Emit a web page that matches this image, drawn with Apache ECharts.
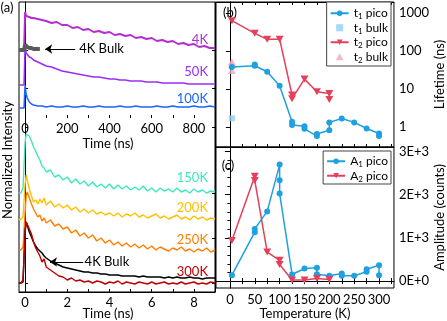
<!DOCTYPE html>
<html>
<head>
<meta charset="utf-8">
<script src="https://cdn.jsdelivr.net/npm/echarts@6/dist/echarts.min.js"></script>
<style>
  html, body { margin: 0; padding: 0; background: #fff; }
  #main { width: 447px; height: 321px; }
</style>
</head>
<body>
<div id="main"></div>
<script>
// (a) top: long time window, ns
var tTop = [-28, -15, -5, 0, 2, 5, 10, 20, 30, 40, 60, 80,
  100, 125, 150, 175, 200, 225, 250, 275, 300, 325, 350, 375, 400, 425, 450, 475, 500,
  525, 550, 575, 600, 625, 650, 675, 700, 725, 750, 775, 800, 825, 850, 875, 900];
var i4K = [68, 68, 68, 106, 104, 102, 101, 101, 100, 100, 99, 98,
  97, 95, 96, 93, 93, 90, 91, 88, 89, 86, 87, 85, 86, 83, 84, 82, 83,
  80, 81, 79, 80, 77, 78, 76, 77, 74, 75, 73, 74, 71, 72, 70, 70];
var i50K = [33, 33, 33, 71, 68, 65, 63, 61, 60, 58, 56, 54,
  52, 51, 49, 47, 46, 45, 44, 43, 42, 41, 41, 40, 39, 39, 38, 38, 37,
  37, 37, 36, 36, 36, 35, 35, 35, 35, 35, 34, 34, 34, 34, 34, 34];
var i100K = [10, 10, 10, 33, 28, 24, 20, 16, 14, 13, 12, 12,
  11, 12, 11, 11, 12, 11, 11, 12, 11, 11, 12, 11, 11, 11, 12, 11, 11,
  12, 11, 11, 11, 12, 11, 11, 12, 11, 11, 11, 12, 11, 11, 12, 11];
var tBulkTop = [-28, -15, -5, 0, 2, 5, 10, 20, 30, 40, 55, 70];
var iBulkTop = [68, 68, 68, 73, 73, 72, 71, 70, 70, 69, 69, 69];

// (a) bottom: short time window, ns
var tNs = [-0.3, -0.2, -0.1, 0, 0.05, 0.1, 0.2, 0.3, 0.4, 0.5, 0.6, 0.7, 0.8, 0.9,
  1.0, 1.2, 1.4, 1.6, 1.8, 2.0, 2.2, 2.4, 2.6, 2.8, 3.0, 3.2, 3.4, 3.6, 3.8, 4.0,
  4.2, 4.4, 4.6, 4.8, 5.0, 5.2, 5.4, 5.6, 5.8, 6.0, 6.2, 6.4, 6.6, 6.8, 7.0,
  7.2, 7.4, 7.6, 7.8, 8.0, 8.2, 8.4, 8.6, 8.8, 9.0];
var i150K = [99, 99, 104, 150, 158, 160, 156, 151, 145, 141, 136, 132, 126, 124,
  120, 122, 115, 117, 112, 115, 109, 113, 108, 111, 106, 110, 105, 108, 104, 108,
  103, 107, 103, 106, 102, 105, 102, 106, 101, 104, 100, 104, 101, 103, 100,
  104, 100, 102, 99, 103, 100, 102, 99, 101, 100];
var i200K = [72, 73, 75, 108, 117, 112, 103, 96, 90, 92, 88, 93, 89, 94,
  87, 91, 85, 88, 84, 87, 82, 85, 80, 83, 79, 82, 78, 80, 77, 79,
  76, 79, 75, 78, 76, 79, 75, 77, 74, 76, 78, 74, 76, 73, 75,
  77, 73, 75, 72, 76, 73, 75, 72, 74, 73];
var i250K = [42, 42, 45, 80, 96, 100, 94, 88, 83, 79, 75, 77, 71, 74,
  69, 72, 66, 68, 63, 65, 59, 62, 56, 59, 54, 57, 51, 54, 49, 52,
  47, 50, 46, 49, 45, 48, 44, 47, 43, 46, 42, 45, 43, 41, 44,
  42, 45, 41, 43, 40, 43, 41, 44, 40, 42];
var i300K = [9, 9, 12, 58, 70, 68, 63, 58, 50, 44, 40, 36, 30, 33,
  25, 22, 19, 16, 15, 12, 14, 11, 12, 10, 11, 9, 11, 10, 8, 10,
  9, 11, 8, 10, 9, 8, 10, 9, 8, 10, 8, 9, 10, 8, 9,
  8, 10, 8, 9, 10, 8, 9, 8, 10, 9];
var iBulk = [9, 9, 10, 62, 70, 67, 60, 55, 50, 46, 43, 41, 39, 36,
  34, 31, 29, 27, 25, 24, 23, 22, 21, 20, 20, 19, 19, 18, 18, 17,
  17, 17, 16, 16, 16, 16, 15, 16, 15, 15, 15, 15, 14, 15, 14,
  15, 14, 14, 15, 14, 14, 13, 14, 14, 14];

// (b) lifetimes vs temperature
var tempT1 = [4, 50, 50, 75, 100, 125, 125, 150, 150, 175, 175, 200, 200, 225, 250, 275, 300, 300];
var tauT1 = [38, 41, 44, 28.5, 12.2, 1.38, 1.13, 1.06, 0.9, 0.58, 0.66, 0.83, 1.33, 1.69, 1.33, 0.92, 0.68, 0.58];
var tempT1Bulk = [4];
var tauT1Bulk = [1.7];
var tempT2 = [4, 50, 75, 100, 125, 125, 150, 175, 200, 200];
var tauT2 = [630, 292, 203, 205, 7, 5.6, 18.3, 8.5, 7.7, 5.3];
var tempT2Bulk = [4, 4, 4];
var tauT2Bulk = [52, 44, 31];

// (c) amplitudes vs temperature
var tempA1 = [4, 50, 50, 75, 100, 100, 100, 125, 150, 175, 175, 200, 225, 225, 250, 275, 275, 300, 300];
var ampA1 = [137, 1130, 1206, 1611, 2693, 2334, 2023, 153, 290, 307, 160, 123, 176, 123, 123, 214, 275, 366, 137];
var tempA2 = [4, 50, 50, 75, 100, 100, 125, 150, 175, 200];
var ampA2 = [940, 2426, 2327, 672, 481, 382, 23, 23, 62, 39];

// tick labels
var topTimeLabels = [0, 200, 400, 600, 800];
var topTimeTicks = [0, 100, 200, 300, 400, 500, 600, 700, 800, 900];
var nsLabels = [0, 2, 4, 6, 8];
var nsTicks = [0, 1, 2, 3, 4, 5, 6, 7, 8, 9];
var tempLabels = [0, 50, 100, 150, 200, 250, 300];
var tempTicks = [0, 25, 50, 75, 100, 125, 150, 175, 200, 225, 250, 275, 300, 325];
var ampLabels = [0, 1000, 2000, 3000];
var ampMinor = [0, 200, 400, 600, 800, 1000, 1200, 1400, 1600, 1800, 2000, 2200, 2400, 2600, 2800, 3000];
var leftTicks = [9, 54, 99, 165, 204, 242];

function pairs(xs, ys) {
  return xs.map(function (x, i) { return [x, ys[i]]; });
}
function subName(name) {
  return name.charAt(0) + '{s|' + name.charAt(1) + '}' + name.slice(2);
}

var FONT = 'Lato';
var FS = 13;
var downTri = 'path://M0,0 L10,0 L5,9 Z';
var upTri = 'path://M5,0 L10,9 L0,9 Z';
var square = 'path://M0,0 L10,0 L10,10 L0,10 Z';
var c4K = '#b22fd0', c50K = '#9a2ef5', c100K = '#1e64ff', c150K = '#3de8c0',
    c200K = '#ffc000', c250K = '#ff7f00', c300K = '#c00000';
var cBlue = '#1fa0e0', cRed = '#e4405a';

function tickAxis(extra) {
  var base = {
    type: 'value',
    splitLine: { show: false },
    axisLine: { show: true, lineStyle: { color: '#000' } },
    axisTick: { show: true, inside: true, length: 3, lineStyle: { color: '#000' } },
    axisLabel: { show: false, color: '#000', fontSize: FS, fontFamily: FONT }
  };
  for (var k in extra) {
    if (typeof extra[k] === 'object' && base[k] && !Array.isArray(extra[k])) {
      base[k] = Object.assign({}, base[k], extra[k]);
    } else {
      base[k] = extra[k];
    }
  }
  return base;
}

var myChart = echarts.init(document.getElementById('main'));
var legendRich = { s: { fontSize: 8, lineHeight: 8, verticalAlign: 'bottom', fontFamily: FONT, color: '#000' } };

var option = {
  animation: false,
  textStyle: { fontFamily: FONT },
  grid: [
    { left: 19, top: 2, width: 196, height: 116 },
    { left: 19, top: 2, width: 196, height: 290, show: true, borderColor: '#000', borderWidth: 1 },
    { left: 216, top: 2, width: 180, height: 145, show: true, borderColor: '#000', borderWidth: 1 },
    { left: 216, top: 147, width: 180, height: 143, show: true, borderColor: '#000', borderWidth: 1 }
  ],
  legend: [{
    data: ['t1 pico', 't1 bulk', 't2 pico', 't2 bulk'],
    orient: 'vertical', right: 56, top: 2,
    itemWidth: 18, itemHeight: 7, itemGap: 0,
    backgroundColor: '#fff', borderColor: '#444', borderWidth: 1, padding: [4, 3, 2, 3],
    selectedMode: false,
    textStyle: { fontSize: 12, lineHeight: 14.5, color: '#000', rich: legendRich },
    formatter: subName
  }, {
    data: ['A1 pico', 'A2 pico'],
    orient: 'vertical', right: 56, top: 151,
    itemWidth: 18, itemHeight: 7, itemGap: 0,
    backgroundColor: '#fff', borderColor: '#444', borderWidth: 1, padding: [3, 3, 1, 3],
    selectedMode: false,
    textStyle: { fontSize: 12, lineHeight: 14.5, color: '#000', rich: legendRich },
    formatter: subName
  }],
  xAxis: [
    tickAxis({ gridIndex: 0, min: -29, max: 900, axisLine: { show: false },
      axisTick: { customValues: topTimeTicks },
      axisLabel: { show: true, customValues: topTimeLabels, margin: 4 } }),
    tickAxis({ gridIndex: 1, min: -0.29, max: 9,
      axisTick: { customValues: nsTicks },
      axisLabel: { show: true, customValues: nsLabels, margin: 4 } }),
    tickAxis({ gridIndex: 2, min: -28, max: 330, axisTick: { customValues: tempTicks } }),
    tickAxis({ gridIndex: 2, min: -28, max: 330, position: 'top', axisTick: { customValues: tempTicks } }),
    tickAxis({ gridIndex: 3, min: -28, max: 330,
      axisTick: { customValues: tempTicks },
      axisLabel: { show: true, customValues: tempLabels, margin: 5 },
      name: 'Temperature (K)', nameLocation: 'middle', nameGap: 19,
      nameTextStyle: { color: '#000', fontSize: FS, fontFamily: FONT } }),
    tickAxis({ gridIndex: 3, min: -28, max: 330, position: 'top', axisTick: { customValues: tempTicks } })
  ],
  yAxis: [
    { gridIndex: 0, type: 'value', min: 0, max: 116, show: false },
    tickAxis({ gridIndex: 1, min: 0, max: 290, axisTick: { customValues: leftTicks } }),
    tickAxis({ gridIndex: 1, min: 0, max: 290, position: 'right', axisTick: { customValues: leftTicks } }),
    tickAxis({ gridIndex: 2, type: 'log', min: 0.3, max: 1950, position: 'right',
      axisTick: { length: 4 },
      axisLabel: { show: true, margin: 5, showMinLabel: false, showMaxLabel: false,
        formatter: function (v) {
          var l = Math.log10(v);
          return Math.abs(l - Math.round(l)) < 1e-6 ? String(Math.round(v)) : '';
        } },
      name: 'Lifetime (ns)', nameLocation: 'middle', nameGap: 37,
      nameTextStyle: { color: '#000', fontSize: FS, fontFamily: FONT } }),
    tickAxis({ gridIndex: 3, min: -160, max: 3100, position: 'right',
      axisTick: { length: 5, customValues: ampLabels },
      axisLabel: { show: true, margin: 5, customValues: ampLabels,
        formatter: function (v) { return v === 0 ? '0E+0' : (v / 1000) + 'E+3'; } },
      name: 'Amplitude (counts)', nameLocation: 'middle', nameGap: 37,
      nameTextStyle: { color: '#000', fontSize: FS, fontFamily: FONT } }),
    tickAxis({ gridIndex: 3, min: -160, max: 3100, position: 'right',
      axisLine: { show: false }, axisTick: { length: 2.5, customValues: ampMinor } })
  ],
  series: [
    // (a) top
    { type: 'line', xAxisIndex: 0, yAxisIndex: 0, data: pairs(tTop, i4K), showSymbol: false,
      lineStyle: { color: c4K, width: 2 }, z: 2 },
    { type: 'line', xAxisIndex: 0, yAxisIndex: 0, data: pairs(tTop, i50K), showSymbol: false,
      lineStyle: { color: c50K, width: 1.6 }, z: 2 },
    { type: 'line', xAxisIndex: 0, yAxisIndex: 0, data: pairs(tTop, i100K), showSymbol: false,
      lineStyle: { color: c100K, width: 1.6 }, z: 2 },
    { type: 'line', xAxisIndex: 0, yAxisIndex: 0, data: pairs(tBulkTop, iBulkTop), showSymbol: false,
      lineStyle: { color: '#5a5a5a', width: 4 }, z: 3,
      markLine: { silent: true, symbol: ['none', 'arrow'], symbolSize: 7,
        lineStyle: { color: '#000', width: 1, type: 'solid' }, label: { show: false },
        data: [[{ coord: [237, 69] }, { coord: [95, 69] }]] },
      markPoint: { silent: true, symbol: 'circle', symbolSize: 0,
        label: { show: true, position: 'right', distance: 0, formatter: '4K Bulk', color: '#000', fontSize: FS, fontFamily: FONT },
        data: [{ coord: [256, 69] }] } },
    // (a) bottom
    { type: 'line', xAxisIndex: 1, yAxisIndex: 1, data: pairs(tNs, i150K), showSymbol: false,
      lineStyle: { color: c150K, width: 1.4 } },
    { type: 'line', xAxisIndex: 1, yAxisIndex: 1, data: pairs(tNs, i200K), showSymbol: false,
      lineStyle: { color: c200K, width: 1.4 } },
    { type: 'line', xAxisIndex: 1, yAxisIndex: 1, data: pairs(tNs, i250K), showSymbol: false,
      lineStyle: { color: c250K, width: 1.4 } },
    { type: 'line', xAxisIndex: 1, yAxisIndex: 1, data: pairs(tNs, iBulk), showSymbol: false,
      lineStyle: { color: '#000', width: 1.5 },
      markLine: { silent: true, symbol: ['none', 'arrow'], symbolSize: 7,
        lineStyle: { color: '#000', width: 1, type: 'solid' }, label: { show: false },
        data: [[{ coord: [2.75, 30] }, { coord: [1.18, 30] }]] },
      markPoint: { silent: true, symbol: 'circle', symbolSize: 0,
        label: { show: true, position: 'right', distance: 0, formatter: '4K Bulk', color: '#000', fontSize: FS, fontFamily: FONT },
        data: [{ coord: [2.82, 30] }] } },
    { type: 'line', xAxisIndex: 1, yAxisIndex: 1, data: pairs(tNs, i300K), showSymbol: false,
      lineStyle: { color: c300K, width: 1.4 } },
    // (b)
    { name: 't1 pico', type: 'line', xAxisIndex: 2, yAxisIndex: 3, data: pairs(tempT1, tauT1),
      symbol: 'circle', symbolSize: 6, color: cBlue, lineStyle: { width: 1.5 } },
    { name: 't1 bulk', type: 'scatter', xAxisIndex: 2, yAxisIndex: 3, data: pairs(tempT1Bulk, tauT1Bulk),
      symbol: square, symbolSize: 6, color: '#8fd0f2' },
    { name: 't2 pico', type: 'line', xAxisIndex: 2, yAxisIndex: 3, data: pairs(tempT2, tauT2),
      symbol: downTri, symbolSize: [8, 7], color: cRed, lineStyle: { width: 1.5 } },
    { name: 't2 bulk', type: 'scatter', xAxisIndex: 2, yAxisIndex: 3, data: pairs(tempT2Bulk, tauT2Bulk),
      symbol: upTri, symbolSize: [8, 7], color: '#f2a6c0' },
    // (c)
    { name: 'A1 pico', type: 'line', xAxisIndex: 4, yAxisIndex: 4, data: pairs(tempA1, ampA1),
      symbol: 'circle', symbolSize: 6, color: cBlue, lineStyle: { width: 1.5 } },
    { name: 'A2 pico', type: 'line', xAxisIndex: 4, yAxisIndex: 4, data: pairs(tempA2, ampA2),
      symbol: downTri, symbolSize: [8, 7], color: cRed, lineStyle: { width: 1.5 } }
  ],
  graphic: [
    { type: 'text', x: 7, y: 8, style: { text: '(a)', font: '13px Lato', fill: '#000', textAlign: 'center', textVerticalAlign: 'middle' } },
    { type: 'text', x: 230, y: 13, style: { text: '(b)', font: '13px Lato', fill: '#000', textAlign: 'center', textVerticalAlign: 'middle' } },
    { type: 'text', x: 228, y: 166, style: { text: '(c)', font: '13px Lato', fill: '#000', textAlign: 'center', textVerticalAlign: 'middle' } },
    { type: 'text', x: 8, y: 160, rotation: Math.PI / 2, style: { text: 'Normalized Intensity', font: '13px Lato', fill: '#000', textAlign: 'center', textVerticalAlign: 'middle' } },
    { type: 'text', x: 108, y: 144, style: { text: 'Time (ns)', font: '13px Lato', fill: '#000', textAlign: 'center', textVerticalAlign: 'middle' } },
    { type: 'text', x: 108, y: 314, style: { text: 'Time (ns)', font: '13px Lato', fill: '#000', textAlign: 'center', textVerticalAlign: 'middle' } },
    { type: 'text', x: 208, y: 40, style: { text: '4K', font: '13px Lato', fill: c4K, textAlign: 'right', textVerticalAlign: 'middle' } },
    { type: 'text', x: 208, y: 72, style: { text: '50K', font: '13px Lato', fill: c50K, textAlign: 'right', textVerticalAlign: 'middle' } },
    { type: 'text', x: 208, y: 99, style: { text: '100K', font: '13px Lato', fill: c100K, textAlign: 'right', textVerticalAlign: 'middle' } },
    { type: 'text', x: 208, y: 178, style: { text: '150K', font: '13px Lato', fill: c150K, textAlign: 'right', textVerticalAlign: 'middle' } },
    { type: 'text', x: 208, y: 208, style: { text: '200K', font: '13px Lato', fill: c200K, textAlign: 'right', textVerticalAlign: 'middle' } },
    { type: 'text', x: 208, y: 240, style: { text: '250K', font: '13px Lato', fill: c250K, textAlign: 'right', textVerticalAlign: 'middle' } },
    { type: 'text', x: 208, y: 272, style: { text: '300K', font: '13px Lato', fill: c300K, textAlign: 'right', textVerticalAlign: 'middle' } }
  ]
};
myChart.setOption(option, true);
</script>
</body>
</html>
